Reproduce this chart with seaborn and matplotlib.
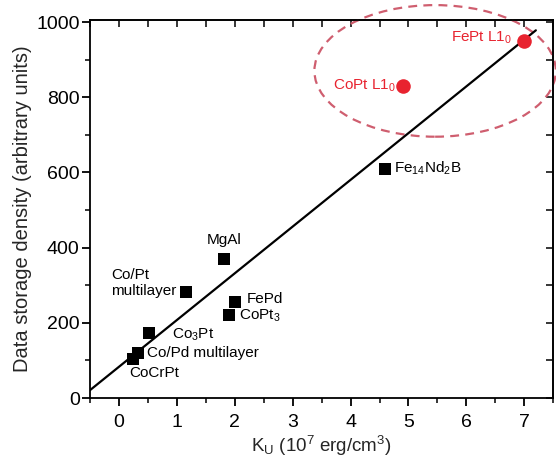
import matplotlib
matplotlib.use("Agg")
import matplotlib.pyplot as plt
import seaborn as sns
import pandas as pd
from matplotlib.patches import Ellipse
from matplotlib.ticker import MultipleLocator

# ---- data ----
black_names = ["Fe$_{14}$Nd$_2$B", "MgAl", "Co/Pt\nmultilayer", "FePd", "CoPt$_3$",
               "Co$_3$Pt", "Co/Pd multilayer", "CoCrPt"]
black_ku = [4.6, 1.81, 1.15, 2.0, 1.9, 0.52, 0.32, 0.25]
black_density = [610, 370, 282, 256, 221, 172, 121, 103]

red_names = ["FePt L1$_0$", "CoPt L1$_0$"]
red_ku = [7.0, 4.9]
red_density = [950, 830]

fit_ku = [-0.5, 7.2]
fit_density = [21, 978]

x_ticks = [0, 1, 2, 3, 4, 5, 6, 7]
y_ticks = [0, 200, 400, 600, 800, 1000]

# ---- layout (label anchors, ha) ----
black_label_pos = [(4.75, 612, "left"), (1.51, 420, "left"), (-0.14, 306, "left"),
                   (2.2, 263, "left"), (2.08, 218, "left"), (0.91, 168, "left"),
                   (0.48, 120, "left"), (0.17, 66, "left")]
red_label_pos = [(6.78, 957, "right"), (4.78, 830, "right")]

sns.set_theme(style="ticks")
plt.rcParams["font.family"] = ["Liberation Sans", "DejaVu Sans"]
plt.rcParams["mathtext.fontset"] = "custom"
plt.rcParams["mathtext.rm"] = "Liberation Sans"
plt.rcParams["mathtext.it"] = "Liberation Sans"
plt.rcParams["mathtext.default"] = "regular"

fig = plt.figure(figsize=(5.56, 4.58), dpi=100)
ax = fig.add_axes([0.162, 0.131, 0.833, 0.825])

red = "#e8232f"
ell_col = "#cf5e6f"

fit_df = pd.DataFrame({"ku": fit_ku, "d": fit_density})
sns.lineplot(data=fit_df, x="ku", y="d", ax=ax, color="black", lw=1.6, zorder=3)

bdf = pd.DataFrame({"ku": black_ku, "d": black_density})
sns.scatterplot(data=bdf, x="ku", y="d", ax=ax, marker="s", s=78, color="black",
                edgecolor="black", linewidth=0, zorder=4)
rdf = pd.DataFrame({"ku": red_ku, "d": red_density})
sns.scatterplot(data=rdf, x="ku", y="d", ax=ax, marker="o", s=110, color=red,
                edgecolor=red, linewidth=0, zorder=4)

for name, (x, y, ha) in zip(black_names, black_label_pos):
    ax.text(x, y, name, ha=ha, va="center", fontsize=11, color="black",
            linespacing=1.1, zorder=5)
for name, (x, y, ha) in zip(red_names, red_label_pos):
    ax.text(x, y, name, ha=ha, va="center", fontsize=11, color=red, zorder=5)

ell = Ellipse((5.46, 870), 4.17, 350, fill=False, edgecolor=ell_col, lw=1.6,
              linestyle=(0, (4.0, 2.8)), clip_on=False, zorder=2)
ax.add_patch(ell)

ax.set_xlim(-0.5, 7.5)
ax.set_ylim(0, 1005)
ax.set_xticks(x_ticks)
ax.set_yticks(y_ticks)
ax.xaxis.set_minor_locator(MultipleLocator(0.5))
ax.yaxis.set_minor_locator(MultipleLocator(100))
ax.tick_params(which="major", direction="out", length=5.5, width=1.3, labelsize=14,
               colors="black")
ax.tick_params(which="minor", direction="out", length=3.5, width=1.3)
ax.tick_params(axis="x", which="major", pad=6)
ax.tick_params(axis="y", which="major", pad=2)
ax.tick_params(top=False, right=False)

for side in ["top", "right", "bottom", "left"]:
    ax.spines[side].set_visible(True)
    ax.spines[side].set_linewidth(1.3)
    ax.spines[side].set_color("black")

secx = ax.secondary_xaxis("top")
secx.set_xticks(x_ticks)
secx.xaxis.set_minor_locator(MultipleLocator(0.5))
secx.tick_params(which="both", direction="in", labeltop=False, width=1.3, length=5)
secy = ax.secondary_yaxis("right")
secy.set_yticks(y_ticks)
secy.yaxis.set_minor_locator(MultipleLocator(100))
secy.tick_params(which="both", direction="in", labelright=False, width=1.3, length=5)

ax.set_xlabel(r"K$_\mathregular{U}$ (10$^\mathregular{7}$ erg/cm$^\mathregular{3}$)",
              fontsize=13.5, labelpad=2)
ax.set_ylabel("Data storage density (arbitrary units)", fontsize=14.5, labelpad=3)

fig.savefig("out.png", dpi=100)
